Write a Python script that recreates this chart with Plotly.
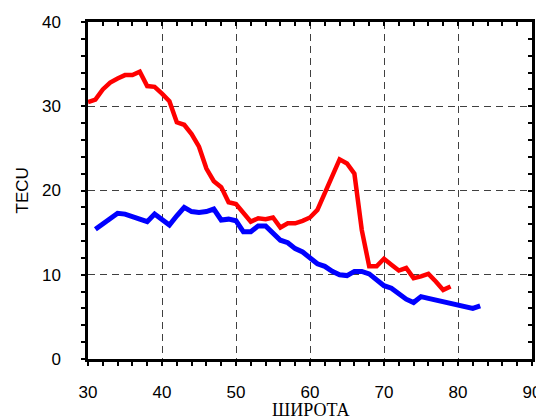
import plotly.graph_objects as go

# Red series (latitude, TECU)
red_lat = [30, 31, 32, 33, 34, 35, 36, 37, 38, 39, 40, 41, 42, 43, 44, 45, 46, 47, 48, 49,
           50, 51, 52, 53, 54, 55, 56, 57, 58, 59, 60, 61, 62, 63, 64, 65, 66, 67, 68, 69,
           70, 71, 72, 73, 74, 75, 76, 77, 78, 79]
red_tec = [30.5, 30.8, 32.0, 32.8, 33.3, 33.7, 33.7, 34.1, 32.4, 32.3, 31.5, 30.6, 28.1, 27.8,
           26.7, 25.2, 22.6, 21.1, 20.4, 18.6, 18.4, 17.3, 16.3, 16.7, 16.6, 16.8, 15.6, 16.1,
           16.1, 16.4, 16.8, 17.7, 19.8, 21.8, 23.7, 23.2, 22.0, 15.3, 11.0, 11.0, 11.9, 11.2,
           10.5, 10.8, 9.6, 9.8, 10.1, 9.2, 8.2, 8.6]

# Blue series
blue_lat = [31, 34, 35, 36, 37, 38, 39, 40, 41, 42, 43, 44, 45, 46, 47, 48, 49, 50, 51, 52,
            53, 54, 55, 56, 57, 58, 59, 60, 61, 62, 63, 64, 65, 66, 67, 68, 69, 70, 71, 72,
            73, 74, 75, 76, 77, 78, 79, 80, 81, 82, 83]
blue_tec = [15.4, 17.3, 17.2, 16.9, 16.6, 16.3, 17.2, 16.6, 15.9, 17.0, 18.0, 17.5, 17.4, 17.5,
            17.8, 16.5, 16.6, 16.4, 15.1, 15.1, 15.8, 15.8, 15.0, 14.1, 13.8, 13.1, 12.7, 11.9,
            11.3, 11.0, 10.4, 10.0, 9.9, 10.4, 10.4, 10.1, 9.4, 8.7, 8.4, 7.8, 7.1, 6.7, 7.4,
            7.2, 7.0, 6.8, 6.6, 6.4, 6.2, 6.0, 6.3]

x_ticks = [30, 40, 50, 60, 70, 80, 90]
y_ticks = [0, 10, 20, 30, 40]
x_title = "ШИРОТА"
y_title = "TECU"

fig = go.Figure()
fig.add_trace(go.Scatter(x=red_lat, y=red_tec, mode="lines",
                         line=dict(color="#ff0000", width=4.5), showlegend=False))
fig.add_trace(go.Scatter(x=blue_lat, y=blue_tec, mode="lines",
                         line=dict(color="#0000ff", width=5), showlegend=False))
# empty trace to bring top/right mirror axes into existence
fig.add_trace(go.Scatter(x=[], y=[], xaxis="x2", yaxis="y2", showlegend=False))

tickfont = dict(family="Liberation Sans, Arial", size=17, color="black")
grid = dict(showgrid=True, gridcolor="#404040", gridwidth=1, griddash="7px,5px")

# page body has an 8px margin, so the figure is sized 8px smaller each way
fig.update_layout(
    width=536, height=411,
    margin=dict(l=80, r=12, t=14, b=60),
    paper_bgcolor="white", plot_bgcolor="white",
    xaxis=dict(range=[30, 90], tickvals=x_ticks, ticktext=[str(v) for v in x_ticks],
               ticks="outside", ticklen=16, tickcolor="rgba(0,0,0,0)", automargin=False,
               minor=dict(ticks="outside", ticklen=4, tickwidth=1.5, tickcolor="black",
                          dtick=2, tick0=30, showgrid=False),
               showline=True, linecolor="black", linewidth=2.5, mirror=True,
               zeroline=False, tickfont=tickfont, **grid),
    yaxis=dict(range=[0, 40], tickvals=y_ticks, ticktext=[str(v) for v in y_ticks],
               ticks="outside", ticklen=21, tickcolor="rgba(0,0,0,0)", automargin=False,
               minor=dict(ticks="outside", ticklen=4, tickwidth=1.5, tickcolor="black",
                          dtick=2, tick0=0, showgrid=False),
               showline=True, linecolor="black", linewidth=2.5, mirror=True,
               zeroline=False, tickfont=tickfont, **grid),
    xaxis2=dict(overlaying="x", side="top", anchor="y", matches="x", range=[30, 90],
                showticklabels=False, showgrid=False, zeroline=False, automargin=False,
                tickvals=x_ticks, ticks="inside", ticklen=0,
                minor=dict(ticks="inside", ticklen=4, tickwidth=1.5, tickcolor="black",
                           dtick=2, tick0=30)),
    yaxis2=dict(overlaying="y", side="right", anchor="x", matches="y", range=[0, 40],
                showticklabels=False, showgrid=False, zeroline=False, automargin=False,
                tickvals=y_ticks, ticks="inside", ticklen=0,
                minor=dict(ticks="inside", ticklen=4, tickwidth=1.5, tickcolor="black",
                           dtick=2, tick0=0)),
    annotations=[
        dict(text=x_title, xref="paper", yref="paper", x=0.5, y=0, yshift=-51,
             xanchor="center", yanchor="middle", showarrow=False,
             font=dict(family="Liberation Serif, Times New Roman", size=18, color="black")),
        dict(text=y_title, xref="paper", yref="paper", x=0, y=0.5, xshift=-66,
             xanchor="center", yanchor="middle", textangle=-90, showarrow=False,
             font=dict(family="Liberation Sans, Arial", size=17, color="black")),
    ],
)

fig.write_html("out.html")
